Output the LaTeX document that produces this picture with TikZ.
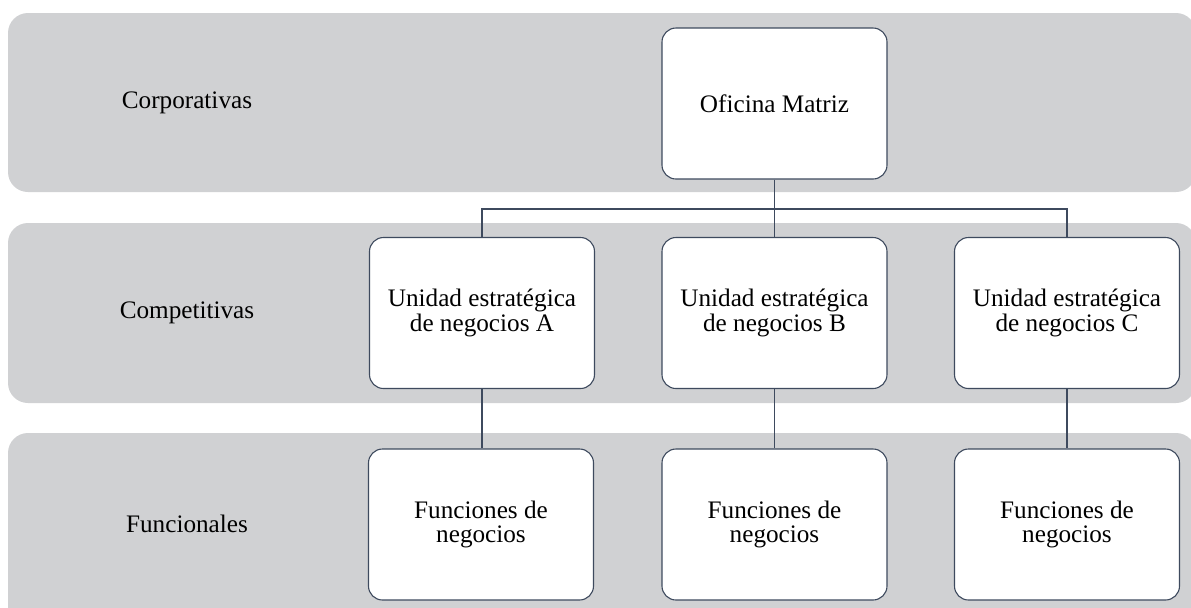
\documentclass[tikz,border=0pt]{standalone}
\usepackage{fontspec}
\setmainfont{Liberation Serif}
\definecolor{bandgray}{RGB}{208,209,211}
\definecolor{boxline}{RGB}{62,74,94}
\begin{document}
	\begin{tikzpicture}[
		x=0.5pt, y=-0.5pt,
		every node/.style={font=\fontsize{12.6}{12.4}\selectfont, align=center},
		band/.style={fill=bandgray, rounded corners=10pt},
		unit/.style={rectangle, draw=boxline, line width=0.55pt, fill=white, rounded corners=7pt, minimum width=112.5pt, minimum height=75.5pt, inner sep=0pt},
		link/.style={draw=boxline, line width=0.55pt}
		]
		\useasboundingbox (0,0) rectangle (1191,607);
		\clip (0,0) rectangle (1191,607);
		% bandas de niveles
		\fill[band] (8,13) rectangle (1196,192);
		\fill[band] (8,223) rectangle (1196,403);
		\fill[band] (8,433) rectangle (1196,640);
		\node (corp) at (187,103) {Corporativas};
		\node (comp) at (187,313) {Competitivas};
		\node (func) at (187,524) {Funcionales};
		% cajas
		\node[unit] (om) at (774.5,103.5) {Oficina Matriz};
		\node[unit] (uA) at (482,313) {Unidad estratégica\\de negocios A};
		\node[unit] (uB) at (774.5,313) {Unidad estratégica\\de negocios B};
		\node[unit] (uC) at (1067,313) {Unidad estratégica\\de negocios C};
		\node[unit] (fA) at (481,524.5) {Funciones de\\negocios};
		\node[unit] (fB) at (774.5,524.5) {Funciones de\\negocios};
		\node[unit] (fC) at (1067,524.5) {Funciones de\\negocios};
		% conectores
		\coordinate (bus) at (774.5,209);
		\draw[link] (om.south) -- (uB.north);
		\draw[link] (uA.north) |- (bus) -| (uC.north);
		\draw[link] (uA.south) -- (fA.north -| uA.south);
		\draw[link] (uB.south) -- (fB.north);
		\draw[link] (uC.south) -- (fC.north);
	\end{tikzpicture}
\end{document}
